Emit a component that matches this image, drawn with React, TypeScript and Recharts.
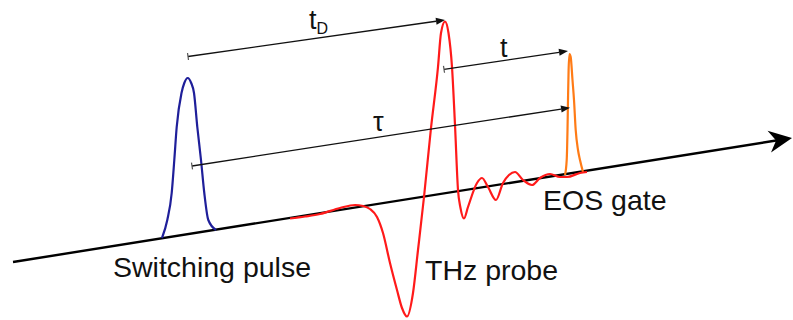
import React from "react";
import { LineChart, Line, XAxis, YAxis, ReferenceLine, ReferenceDot } from "recharts";

// Delay axis (x) runs left to right, height (y) is measured up from the bottom edge.
const axisX = [13, 792];
const axisY = [58, 182];

// Switching pulse
const switchX = [162, 167.3, 171.7, 174.3, 176.7, 181.5, 184.3, 187.7, 191.2, 194, 197.3, 201, 204.3, 208.3, 216];
const switchY = [82, 100, 127, 160, 193, 227, 237, 242, 237, 227, 193, 160, 127, 100, 90];

// THz probe transient
const probeX = [290, 305, 320, 340, 355, 363, 370, 377, 383, 390, 397, 402, 407, 413, 418, 424, 431, 438, 441, 445, 448.5, 452, 455, 458, 460.5, 464, 468, 477, 482, 488, 496, 503, 509, 515, 523, 532, 540, 550, 560, 567, 580, 587];
const probeY = [101.5, 103.5, 106, 112, 115, 114, 111, 103, 87, 57, 30, 12, 3.5, 27, 70, 123, 192, 253, 287, 298.5, 287, 253, 195, 130, 112, 101.5, 113, 137, 142, 133, 120, 137, 145, 148, 140, 135, 142, 146, 143, 143, 147, 148];

// EOS gate pulse
const gateX = [565, 566.7, 567.5, 568, 568.6, 569.5, 570.7, 572.5, 574, 575.7, 578, 580, 583];
const gateY = [145, 160, 190, 220, 250, 266, 263, 240, 220, 190, 170, 160, 148];

// Delay markers: t_D, t, tau
const delayFromX = [188, 444, 192];
const delayFromY = [263.5, 250.7, 154];
const delayToX = [445, 568, 570];
const delayToY = [300, 269, 212.3];

// Text labels
const labelText = ["Switching pulse", "THz probe", "EOS gate", "t", "τ"];
const labelX = [113, 425, 543, 500, 373];
const labelY = [43, 40, 110, 263.5, 189];
const subLabel = { main: "t", sub: "D", x: 309, y: 291 };

const FONT = '"Liberation Sans", Arial, Helvetica, sans-serif';

const toPoints = (xs: number[], ys: number[]) => xs.map((x, i) => ({ x, y: ys[i] }));

const switchData = toPoints(switchX, switchY);
const probeData = toPoints(probeX, probeY);
const gateData = toPoints(gateX, gateY);

function Arrow(props: any) {
  const x1 = Number(props.x1), y1 = Number(props.y1), x2 = Number(props.x2), y2 = Number(props.y2);
  const { color = "#111", width = 1.3, head = 9, wing = 3.5, tick = 0, notch = 0 } = props;
  const dx = x2 - x1, dy = y2 - y1;
  const len = Math.hypot(dx, dy) || 1;
  const ux = dx / len, uy = dy / len;
  const nx = -uy, ny = ux;
  const bx = x2 - ux * head, by = y2 - uy * head;
  const mx = x2 - ux * head * (1 - notch), my = y2 - uy * head * (1 - notch);
  const pts = [
    `${x2},${y2}`,
    `${bx + nx * wing},${by + ny * wing}`,
    `${mx},${my}`,
    `${bx - nx * wing},${by - ny * wing}`,
  ].join(" ");
  return (
    <g>
      <line x1={x1} y1={y1} x2={mx} y2={my} stroke={color} strokeWidth={width} />
      <polygon points={pts} fill={color} />
      {tick > 0 && (
        <line
          x1={x1 + nx * tick}
          y1={y1 + ny * tick}
          x2={x1 - nx * tick}
          y2={y1 - ny * tick}
          stroke="#555"
          strokeWidth={1.2}
        />
      )}
    </g>
  );
}

export default function App() {
  return (
    <div style={{ position: "absolute", left: 0, top: 0, width: 793, height: 320, background: "#fff" }}>
      <LineChart width={793} height={320} margin={{ top: 0, right: 0, bottom: 0, left: 0 }}>
        <XAxis type="number" dataKey="x" domain={[0, 793]} hide allowDataOverflow />
        <YAxis type="number" dataKey="y" domain={[0, 320]} hide allowDataOverflow />

        {/* delay axis */}
        <ReferenceLine
          segment={[{ x: axisX[0], y: axisY[0] }, { x: axisX[1], y: axisY[1] }]}
          ifOverflow="visible"
          shape={(p: any) => <Arrow {...p} color="#000" width={2.4} head={23} wing={11} notch={0.3} />}
        />

        <Line data={switchData} dataKey="y" type="monotone" stroke="#1f1f9a" strokeWidth={2.2} dot={false} activeDot={false} isAnimationActive={false} />
        <Line data={gateData} dataKey="y" type="monotone" stroke="#ff7b16" strokeWidth={2.2} dot={false} activeDot={false} isAnimationActive={false} />
        <Line data={probeData} dataKey="y" type="monotone" stroke="#ff1a1a" strokeWidth={2.2} dot={false} activeDot={false} isAnimationActive={false} />

        {delayFromX.map((fx, i) => (
          <ReferenceLine
            key={`delay-${i}`}
            segment={[{ x: fx, y: delayFromY[i] }, { x: delayToX[i], y: delayToY[i] }]}
            ifOverflow="visible"
            shape={(p: any) => <Arrow {...p} color="#111" width={1.3} head={9} wing={3.5} tick={3.5} />}
          />
        ))}

        {labelText.map((txt, i) => (
          <ReferenceDot
            key={`label-${i}`}
            x={labelX[i]}
            y={labelY[i]}
            r={0}
            ifOverflow="visible"
            shape={(p: any) => (
              <text x={p.cx} y={p.cy} fontFamily={FONT} fontSize={i < 3 ? 28.5 : 27} fill="#111">
                {txt}
              </text>
            )}
          />
        ))}
        <ReferenceDot
          x={subLabel.x}
          y={subLabel.y}
          r={0}
          ifOverflow="visible"
          shape={(p: any) => (
            <text x={p.cx} y={p.cy} fontFamily={FONT} fontSize={27} fill="#111">
              <tspan>{subLabel.main}</tspan>
              <tspan fontSize={16} dy={4.5}>{subLabel.sub}</tspan>
            </text>
          )}
        />
      </LineChart>
    </div>
  );
}
